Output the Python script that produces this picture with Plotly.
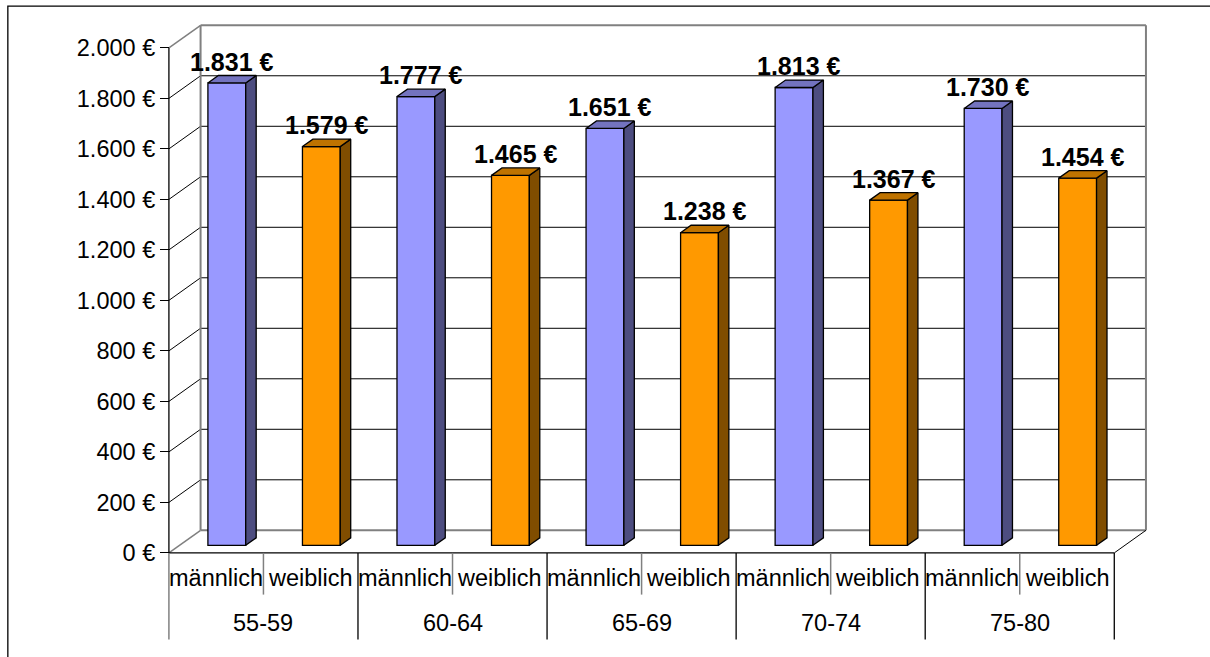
import plotly.graph_objects as go

# ---- data -------------------------------------------------------------
groups = ["55-59", "60-64", "65-69", "70-74", "75-80"]
sexes = ["männlich", "weiblich"]
maennlich = [1831, 1777, 1651, 1813, 1730]
weiblich = [1579, 1465, 1238, 1367, 1454]
y_ticks = list(range(0, 2001, 200))

series = [
    (maennlich, "#9999FF", "#4D4D80", "#7373BF"),
    (weiblich, "#FF9900", "#804D00", "#BF7300"),
]


def euro(v):
    return f"{v:,}".replace(",", ".") + " €"


# ---- geometry of the pseudo-3D box -----------------------------------
W, H = 1210, 657
X0_PX, Y0_PX = 169.0, 553.3      # front-left floor corner in pixels
UNIT_PX = 94.5                   # pixels per category slot
VAL_PX = 0.2525                  # pixels per euro
DX, DY = 0.335, 89.5             # full depth offset (axis units)
D0, DB = 0.336, 0.33             # bar front depth and bar depth (fractions)
BAR_W = 0.4
N = len(groups) * len(sexes)

XR = (-0.2, 10.6)
YR = (-40, 2150)
ml = X0_PX + XR[0] * UNIT_PX
mr = W - (X0_PX + XR[1] * UNIT_PX)
mb = H - (Y0_PX - YR[0] * VAL_PX)
mt = Y0_PX - YR[1] * VAL_PX
plot_w = W - ml - mr
plot_h = H - mt - mb


def yp(v):
    return (v - YR[0]) / (YR[1] - YR[0])


def xp(x):
    return (x - XR[0]) / (XR[1] - XR[0])


def below(py):
    """euro value that corresponds to a pixel row below the floor"""
    return -(py - Y0_PX) / VAL_PX


ROW1, ROW2 = below(578), below(623)
DIV_SHORT, DIV_LONG = below(595), below(640)

BLACK = "#000000"
GRAY = "#808080"

shapes = []


def line(x0, v0, x1, v1, color, width):
    shapes.append(dict(type="line", xref="x", yref="paper",
                       x0=x0, y0=yp(v0), x1=x1, y1=yp(v1),
                       line=dict(color=color, width=width), layer="below"))


# back wall gridlines and their diagonals to the value axis
for v in y_ticks[1:-1]:
    line(DX, v + DY, N + DX, v + DY, BLACK, 1)
    line(0, v, DX, v + DY, BLACK, 1)

# wall / floor frame
line(DX, DY, DX, 2000 + DY, GRAY, 2)
line(N + DX, DY, N + DX, 2000 + DY, GRAY, 2)
line(DX, 2000 + DY, N + DX, 2000 + DY, GRAY, 2)
line(DX, DY, N + DX, DY, GRAY, 2)
line(0, 2000, DX, 2000 + DY, GRAY, 1.5)
line(0, 0, DX, DY, GRAY, 1.5)
line(N, 0, N + DX, DY, BLACK, 1)

# value axis and category axis
line(0, 0, 0, 2000, BLACK, 1.3)
line(0, 0, N, 0, BLACK, 1.3)

# category table dividers
line(0, 0, 0, DIV_LONG, GRAY, 1.5)
for i in range(1, N + 1):
    if i % 2:
        line(i, 0, i, DIV_SHORT, GRAY, 1.5)
    else:
        line(i, 0, i, DIV_LONG, BLACK, 1.3)

# outer chart border
shapes.append(dict(type="rect", xref="paper", yref="paper",
                   x0=(8 - ml) / plot_w, x1=(1220 - ml) / plot_w,
                   y0=(H - mb - 6.5) / plot_h, y1=(H - mb - 670) / plot_h,
                   line=dict(color=BLACK, width=1.3), layer="below"))

fig = go.Figure()
annotations = []
font_family = "Arial, Liberation Sans, sans-serif"
TEXT_SIZE = 23.5
LABEL_SIZE = 25

for k, (vals, c_front, c_side, c_top) in enumerate(series):
    centers = [2 * g + k + 0.5 for g in range(len(groups))]
    fig.add_trace(go.Bar(
        x=[c + D0 * DX for c in centers], y=vals, base=D0 * DY,
        width=BAR_W, marker=dict(color=c_front, line=dict(color=BLACK, width=1.3)),
        hoverinfo="skip", showlegend=False))
    for c, v in zip(centers, vals):
        xl = c - BAR_W / 2 + D0 * DX
        xr = c + BAR_W / 2 + D0 * DX
        b0 = D0 * DY
        top = v + D0 * DY
        ox, oy = DB * DX, DB * DY
        # side face
        fig.add_trace(go.Scatter(
            x=[xr, xr + ox, xr + ox, xr, xr],
            y=[b0, b0 + oy, top + oy, top, b0],
            mode="lines", fill="toself", fillcolor=c_side,
            line=dict(color=BLACK, width=1.3), hoverinfo="skip", showlegend=False))
        # top face
        fig.add_trace(go.Scatter(
            x=[xl, xr, xr + ox, xl + ox, xl],
            y=[top, top, top + oy, top + oy, top],
            mode="lines", fill="toself", fillcolor=c_top,
            line=dict(color=BLACK, width=1.3), hoverinfo="skip", showlegend=False))
        annotations.append(dict(
            x=c + (D0 + DB / 2) * DX, y=v + (D0 + DB) * DY, xref="x", yref="y",
            text=f"<b>{euro(v)}</b>", showarrow=False, yanchor="bottom", yshift=-2,
            font=dict(family=font_family, size=LABEL_SIZE, color=BLACK)))

# category labels (two-row table under the floor)
for i in range(N):
    annotations.append(dict(
        x=i + 0.5, y=yp(ROW1), xref="x", yref="paper", text=sexes[i % 2],
        showarrow=False, yanchor="middle",
        font=dict(family=font_family, size=TEXT_SIZE, color=BLACK)))
for g, name in enumerate(groups):
    annotations.append(dict(
        x=2 * g + 1, y=yp(ROW2), xref="x", yref="paper", text=name,
        showarrow=False, yanchor="middle",
        font=dict(family=font_family, size=TEXT_SIZE, color=BLACK)))

fig.update_layout(
    width=W, height=H,
    margin=dict(l=ml, r=mr, t=mt, b=mb, pad=0),
    paper_bgcolor="white", plot_bgcolor="white",
    barmode="overlay",
    shapes=shapes, annotations=annotations,
    xaxis=dict(range=list(XR), visible=False, fixedrange=True),
    yaxis=dict(range=list(YR), anchor="free", position=xp(0),
               tickvals=y_ticks, ticktext=[euro(v) for v in y_ticks],
               ticks="outside", ticklen=9, tickwidth=1, tickcolor=BLACK,
               tickfont=dict(family=font_family, size=TEXT_SIZE, color=BLACK),
               showgrid=False, zeroline=False, showline=False, fixedrange=True),
)

fig.write_html("out.html")
